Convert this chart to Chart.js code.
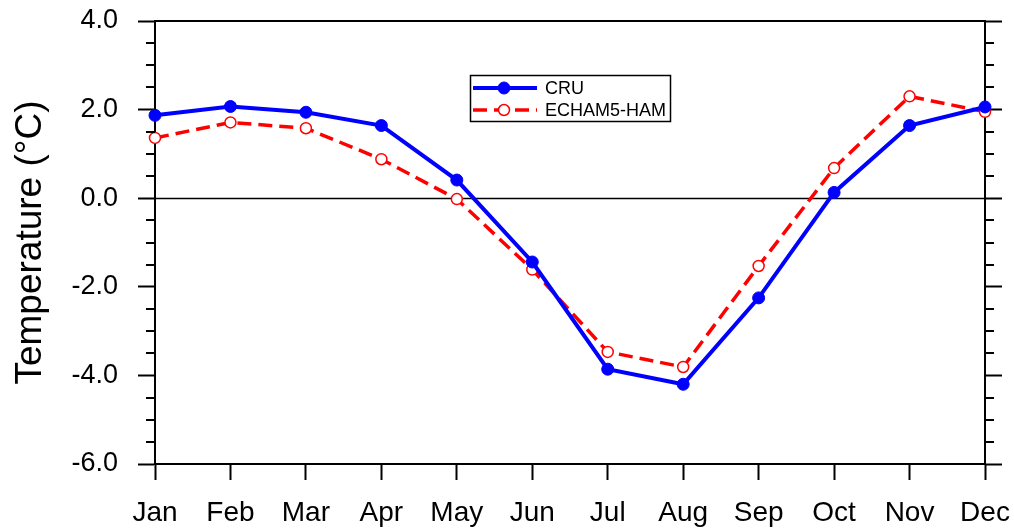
<!DOCTYPE html>
<html>
<head>
<meta charset="utf-8">
<script src="https://cdn.jsdelivr.net/npm/chart.js@4/dist/chart.umd.min.js"></script>
<style>
  html, body { margin: 0; padding: 0; background: #fff; }
  canvas { display: block; }
</style>
</head>
<body>
<canvas id="chart" width="1014" height="529"></canvas>
<script>
// Monthly temperature anomaly, observed (CRU) vs. model (ECHAM5-HAM)
const months = ['Jan', 'Feb', 'Mar', 'Apr', 'May', 'Jun', 'Jul', 'Aug', 'Sep', 'Oct', 'Nov', 'Dec'];
const cruValues   = [1.87, 2.07, 1.94, 1.64, 0.41, -1.44, -3.86, -4.20, -2.25, 0.13, 1.64, 2.06];
const echamValues = [1.36, 1.71, 1.58, 0.88, -0.02, -1.61, -3.47, -3.81, -1.53, 0.68, 2.30, 1.95];
const seriesNames = ['CRU', 'ECHAM5-HAM'];
const yMin = -6;
const yMax = 4;
const yMajorStep = 2;
const yMinorStep = 0.5;
const yTitle = 'Temperature (\u00B0C)';

const FONT = "'Liberation Sans', Arial, Helvetica, sans-serif";
Chart.defaults.color = '#000';
Chart.defaults.font.family = FONT;

const isMajor = v => Math.abs(v / yMajorStep - Math.round(v / yMajorStep)) < 1e-6;

// keep each axis box at a fixed size with no extra label padding
function fixBox(size, horizontal) {
  return s => {
    if (horizontal) s.height = size; else s.width = size;
    s.paddingTop = 0;
    s.paddingBottom = 0;
    s.paddingLeft = 0;
    s.paddingRight = 0;
  };
}

// Frame extras: top border, zero reference line, minor ticks and the boxed legend
const framePlugin = {
  id: 'frameExtras',
  beforeDatasetsDraw(chart) {
    const { ctx, chartArea: a, scales: { y } } = chart;
    ctx.save();
    const y0 = Math.round(y.getPixelForValue(0)) + 0.5;
    ctx.strokeStyle = '#000';
    ctx.lineWidth = 1.6;
    ctx.beginPath();
    ctx.moveTo(a.left, y0);
    ctx.lineTo(a.right, y0);
    ctx.stroke();
    ctx.restore();
  },
  afterDraw(chart) {
    const { ctx, chartArea: a, scales: { y } } = chart;
    ctx.save();
    ctx.strokeStyle = '#000';
    ctx.lineWidth = 2;
    // top border
    ctx.beginPath();
    ctx.moveTo(a.left - 1, Math.round(a.top));
    ctx.lineTo(a.right + 1, Math.round(a.top));
    ctx.stroke();
    // minor ticks on left and right axes
    ctx.beginPath();
    for (let v = yMin; v <= yMax + 1e-9; v += yMinorStep) {
      if (isMajor(v)) continue;
      const py = Math.round(y.getPixelForValue(v));
      ctx.moveTo(a.left - 9, py);
      ctx.lineTo(a.left, py);
      ctx.moveTo(a.right, py);
      ctx.lineTo(a.right + 9, py);
    }
    ctx.stroke();

    // legend box
    const box = { x: 470.5, y: 75.5, w: 200, h: 46 };
    ctx.fillStyle = '#fff';
    ctx.fillRect(box.x, box.y, box.w, box.h);
    ctx.lineWidth = 1.5;
    ctx.strokeRect(box.x, box.y, box.w, box.h);
    const rowY = [88, 110];
    chart.data.datasets.forEach((ds, i) => {
      const ly = rowY[i];
      ctx.save();
      ctx.strokeStyle = ds.borderColor;
      ctx.lineWidth = ds.borderWidth;
      ctx.setLineDash(ds.borderDash || []);
      ctx.beginPath();
      ctx.moveTo(473, ly);
      ctx.lineTo(537, ly);
      ctx.stroke();
      ctx.setLineDash([]);
      ctx.beginPath();
      ctx.arc(504, ly, ds.pointRadius, 0, Math.PI * 2);
      ctx.fillStyle = ds.pointBackgroundColor;
      ctx.fill();
      ctx.lineWidth = ds.pointBorderWidth;
      ctx.strokeStyle = ds.pointBorderColor;
      ctx.stroke();
      ctx.restore();
      ctx.fillStyle = '#000';
      ctx.font = '18px ' + FONT;
      ctx.textAlign = 'left';
      ctx.textBaseline = 'middle';
      ctx.fillText(ds.label, 545, ly + 1);
    });
    ctx.restore();
  }
};

new Chart(document.getElementById('chart'), {
  type: 'line',
  data: {
    labels: months,
    datasets: [
      {
        label: seriesNames[0],
        data: cruValues,
        borderColor: '#0000ff',
        borderWidth: 4,
        pointRadius: 6,
        pointBackgroundColor: '#0000ff',
        pointBorderColor: '#0000ff',
        pointBorderWidth: 1,
        tension: 0,
        clip: false,
        order: 0
      },
      {
        label: seriesNames[1],
        data: echamValues,
        borderColor: '#ff0000',
        borderWidth: 3.5,
        borderDash: [14, 7],
        pointRadius: 5.5,
        pointBackgroundColor: '#ffffff',
        pointBorderColor: '#ff0000',
        pointBorderWidth: 1.5,
        tension: 0,
        clip: false,
        order: 1
      }
    ]
  },
  options: {
    responsive: false,
    animation: false,
    devicePixelRatio: 1,
    layout: { padding: { top: 21, right: 0, left: 0, bottom: 0 } },
    plugins: {
      legend: { display: false },
      tooltip: { enabled: false }
    },
    scales: {
      x: {
        type: 'category',
        offset: false,
        grid: { drawOnChartArea: false, tickLength: 16, tickWidth: 2, tickColor: '#000' },
        border: { color: '#000', width: 2 },
        ticks: { font: { size: 28, family: FONT }, color: '#000', padding: 16, maxRotation: 0, autoSkip: false },
        afterFit: fixBox(65, true)
      },
      y: {
        position: 'left',
        min: yMin,
        max: yMax,
        grid: { drawOnChartArea: false, tickLength: 17, tickWidth: 2, tickColor: '#000' },
        border: { color: '#000', width: 2 },
        ticks: {
          stepSize: yMajorStep,
          font: { size: 27, family: FONT },
          color: '#000',
          padding: 20,
          callback: v => Number(v).toFixed(1)
        },
        title: {
          display: true,
          text: yTitle,
          font: { size: 37, family: FONT },
          color: '#000',
          padding: { top: 9, bottom: 0 }
        },
        afterFit: fixBox(155, false)
      },
      yRight: {
        position: 'right',
        min: yMin,
        max: yMax,
        grid: { drawOnChartArea: false, tickLength: 17, tickWidth: 2, tickColor: '#000' },
        border: { color: '#000', width: 2 },
        ticks: { stepSize: yMajorStep, display: false },
        afterFit: fixBox(29, false)
      }
    }
  },
  plugins: [framePlugin]
});
</script>
</body>
</html>
